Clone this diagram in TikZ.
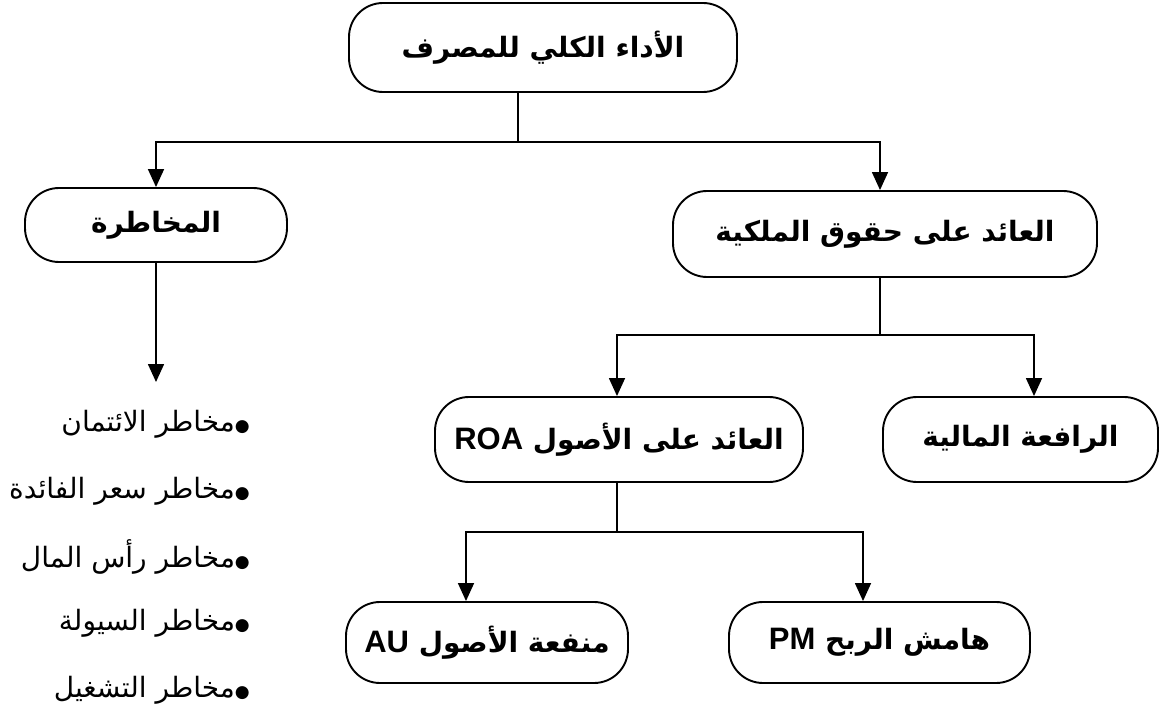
\documentclass[tikz,border=0pt]{standalone}
\usepackage{fontspec}
\TeXXeTstate=1
\newfontfamily\arabicfont[Script=Arabic]{DejaVu Sans}
\newfontfamily\latinfont{Liberation Sans}
\usetikzlibrary{arrows.meta}
\newcommand{\lat}[1]{\beginL{\latinfont\bfseries\fontsize{31}{32}\selectfont #1}\endL}
\newcommand{\bul}{{\fontsize{17}{17}\selectfont ●}}
\begin{document}
\begin{tikzpicture}[x=1pt,y=-1pt,
  box/.style={draw, line width=1.9pt, rounded corners=34pt, inner sep=0pt,
    font=\arabicfont\bfseries\fontsize{28}{32}\selectfont},
  conn/.style={line width=1.6pt},
  arr/.style={conn, -{Triangle[length=18pt,width=16pt]}},
  item/.style={anchor=east, inner sep=0pt, font=\arabicfont\fontsize{28}{32}\selectfont}]
\useasboundingbox (0,0) rectangle (1164,711);

% boxes
\node[box, minimum width=388pt, minimum height=89pt] (top) at (543,47.5) {\beginR الأداء الكلي للمصرف\endR};
\node[box, minimum width=262pt, minimum height=74pt] (risk) at (156,225) {\beginR المخاطرة\endR};
\node[box, minimum width=424pt, minimum height=86pt] (roe) at (885,234) {\beginR العائد على حقوق الملكية\endR};
\node[box, minimum width=368pt, minimum height=85pt] (roa) at (619,439.5) {\beginR العائد على الأصول \lat{ROA}\endR};
\node[box, minimum width=275pt, minimum height=85pt] (lev) at (1020.5,439.5) {\beginR الرافعة المالية\endR};
\node[box, minimum width=282pt, minimum height=81pt] (au) at (487,642.5) {\beginR منفعة الأصول \lat{AU}\endR};
\node[box, minimum width=301pt, minimum height=81pt] (pm) at (879.5,642.5) {\beginR هامش الربح \lat{PM}\endR};

% risk list
\node[item] (r1) at (250,424) {\beginR \bul مخاطر الائتمان\endR};
\node[item] (r2) at (250,491) {\beginR \bul مخاطر سعر الفائدة\endR};
\node[item] (r3) at (250,557) {\beginR \bul مخاطر رأس المال\endR};
\node[item] (r4) at (250,623) {\beginR \bul مخاطر السيولة\endR};
\node[item] (r5) at (250,690) {\beginR \bul مخاطر التشغيل\endR};

% connectors
\coordinate (j1) at (518,142);
\draw[conn] (top.south -| j1) -- (j1);
\draw[arr] (j1) -| (risk.north);
\draw[arr] (j1) -| ([xshift=-5pt]roe.north);

\coordinate (rl) at (156,382);
\draw[arr] (risk.south) -- (rl);

\coordinate (j2) at (880,335);
\draw[conn] (roe.south -| j2) -- (j2);
\draw[arr] (j2) -| ([xshift=-2pt]roa.north);
\draw[arr] (j2) -| ([xshift=13.5pt]lev.north);

\coordinate (j3) at (617,532);
\draw[conn] (roa.south -| j3) -- (j3);
\draw[arr] (j3) -| ([xshift=-21pt]au.north);
\draw[arr] (j3) -| ([xshift=-16.5pt]pm.north);
\end{tikzpicture}
\end{document}
